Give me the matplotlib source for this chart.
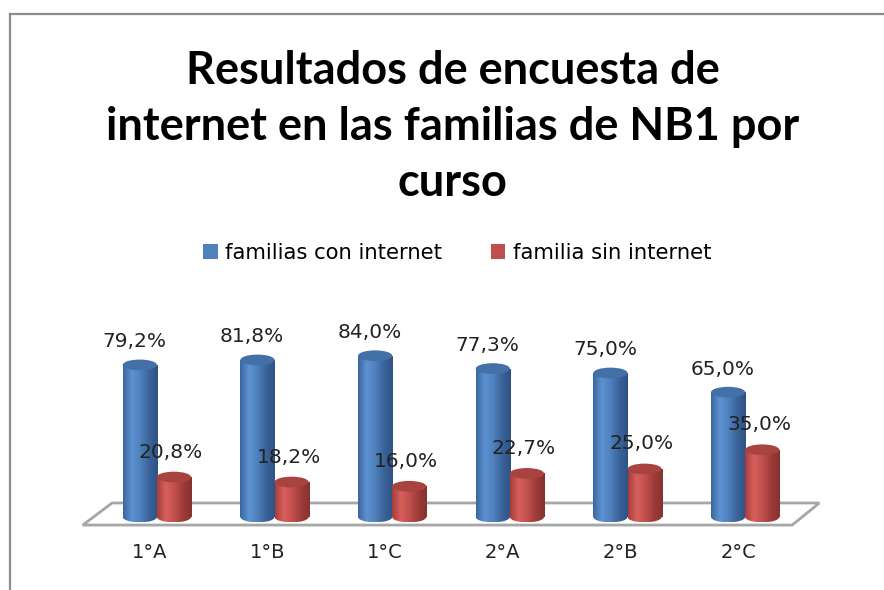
import numpy as np
import matplotlib
matplotlib.use("Agg")
import matplotlib.pyplot as plt
from matplotlib.patches import Rectangle, Ellipse, Polygon
from matplotlib.lines import Line2D
from matplotlib.colors import LinearSegmentedColormap

cursos = ['1°A', '1°B', '1°C', '2°A', '2°B', '2°C']
con_internet = [79.2, 81.8, 84.0, 77.3, 75.0, 65.0]
sin_internet = [20.8, 18.2, 16.0, 22.7, 25.0, 35.0]
series_names = ['familias con internet', 'familia sin internet']

blue = '#4F81BD'
red = '#C0504D'
blue_cmap = LinearSegmentedColormap.from_list('b', ['#3B66A0', '#5E92D2', '#4F81BD', '#3A639A', '#2F5284'])
red_cmap = LinearSegmentedColormap.from_list('r', ['#A53E3B', '#D8605C', '#C0504D', '#9E3B38', '#853230'])

fig = plt.figure(figsize=(8.84, 5.9), dpi=100)
ax = fig.add_axes([0.1109, 0.0912, 0.7986, 0.3905])
ax.set_xlim(-0.5, 5.5)
ax.set_ylim(-10, 110)
ax.axis('off')

# floor
floor = Polygon([(-0.63, -4.2), (5.40, -4.2), (5.63, 7.3), (-0.38, 7.3)],
                closed=True, facecolor='white', edgecolor='#A6A6A6', lw=2, zorder=1, clip_on=False)
ax.add_patch(floor)

w = 0.29
eh = 5.6
grad = np.linspace(0, 1, 64).reshape(1, -1)


def cylinder(xc, v, cmap, top_color, z):
    body = Rectangle((xc - w / 2, 0), w, v, facecolor='none', edgecolor='none', zorder=z)
    ax.add_patch(body)
    im = ax.imshow(grad, cmap=cmap, extent=(xc - w / 2, xc + w / 2, 0, v),
                   aspect='auto', zorder=z, interpolation='bilinear')
    im.set_clip_path(body)
    bottom = Ellipse((xc, 0), w, eh, facecolor='none', edgecolor='none', zorder=z)
    ax.add_patch(bottom)
    im2 = ax.imshow(grad, cmap=cmap, extent=(xc - w / 2, xc + w / 2, -eh / 2, 0),
                    aspect='auto', zorder=z, interpolation='bilinear')
    im2.set_clip_path(bottom)
    ax.add_patch(Ellipse((xc, v), w, eh, facecolor=top_color, edgecolor='none', zorder=z + 0.5))


txt = dict(family='DejaVu Sans', color='#222222')
x = np.arange(len(cursos))
for i in range(len(cursos)):
    cylinder(x[i] - 0.145, con_internet[i], blue_cmap, '#4470A8', 3)
    cylinder(x[i] + 0.145, sin_internet[i], red_cmap, '#A84340', 4)
    ax.annotate(f"{con_internet[i]:.1f}%".replace('.', ','), (x[i] - 0.19, con_internet[i]),
                xytext=(0, 23), textcoords='offset pixels', ha='center', va='center',
                fontsize=14.5, zorder=10, **txt)
    ax.annotate(f"{sin_internet[i]:.1f}%".replace('.', ','), (x[i] + 0.12, sin_internet[i]),
                xytext=(0, 25), textcoords='offset pixels', ha='center', va='center',
                fontsize=14.5, zorder=10, **txt)
    ax.text(x[i] - 0.06, -18.75, cursos[i], ha='center', va='center', fontsize=14, **txt)

fig.text(0.512, 1 - 127 / 590, 'Resultados de encuesta de\ninternet en las familias de NB1 por\ncurso',
         ha='center', va='center', fontsize=32.5, fontweight='bold', family='Lato',
         linespacing=1.42, color='black')

handles = [Rectangle((0, 0), 1, 1, facecolor=blue), Rectangle((0, 0), 1, 1, facecolor=red)]
fig.legend(handles, series_names, loc='center', bbox_to_anchor=(0.517, 1 - 253 / 590), ncol=2,
           frameon=False, handlelength=0.7, handleheight=0.7, handletextpad=0.35, columnspacing=2.3,
           prop={'family': 'DejaVu Sans', 'size': 15.2})

# chart border (left and top)
fig.add_artist(Line2D([10 / 884, 10 / 884], [0, 1 - 14 / 590], transform=fig.transFigure, color='#8C8C8C', lw=1.6))
fig.add_artist(Line2D([10 / 884, 1], [1 - 14 / 590, 1 - 14 / 590], transform=fig.transFigure, color='#8C8C8C', lw=1.6))

fig.savefig('out.png', dpi=100)
